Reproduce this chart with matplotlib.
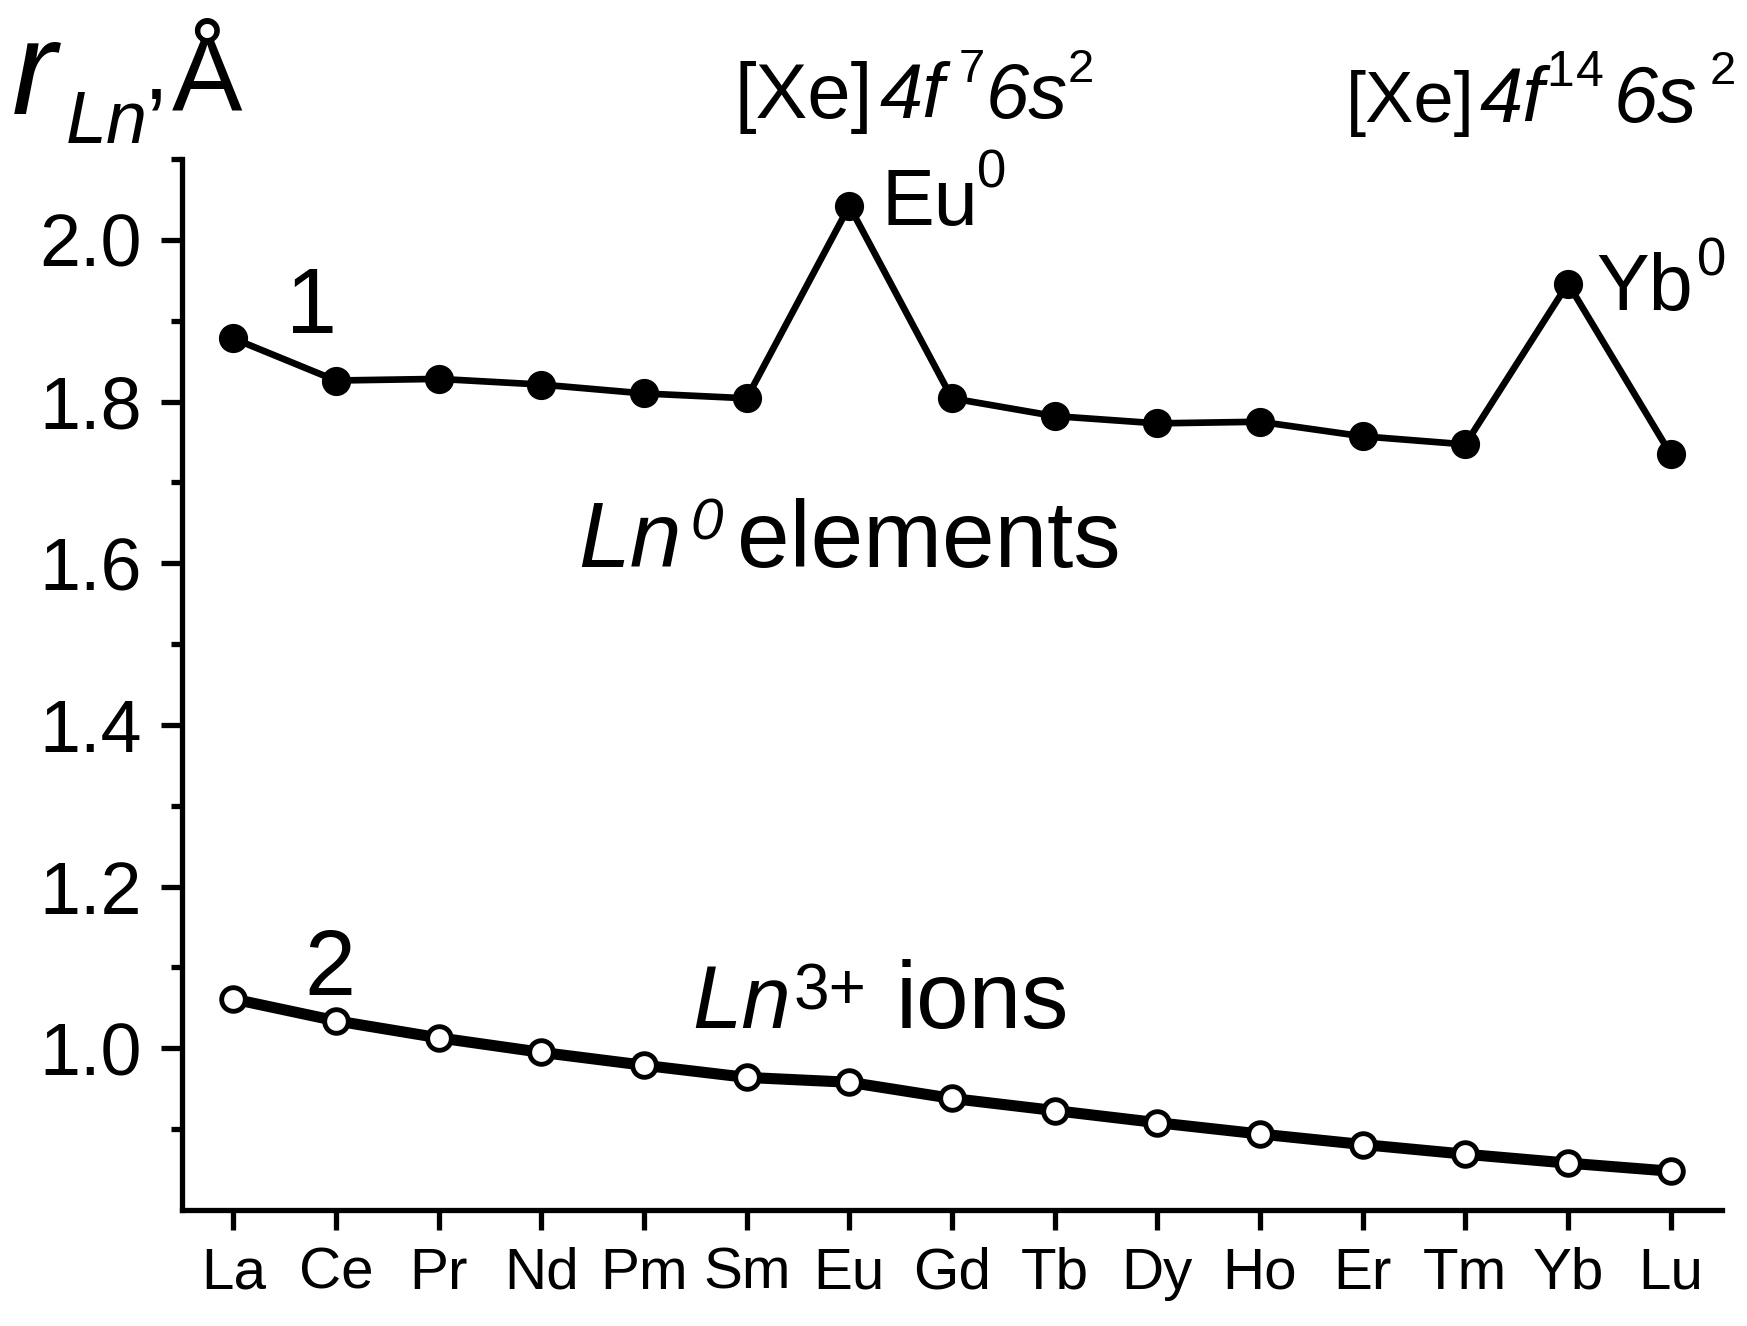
import matplotlib
matplotlib.use("Agg")
import matplotlib.pyplot as plt
from matplotlib.ticker import FixedLocator

# ---- data ----
elements = ["La", "Ce", "Pr", "Nd", "Pm", "Sm", "Eu", "Gd", "Tb", "Dy", "Ho", "Er", "Tm", "Yb", "Lu"]
r_metal = [1.878, 1.826, 1.828, 1.821, 1.810, 1.804, 2.042, 1.804, 1.782, 1.773, 1.775, 1.757, 1.747, 1.946, 1.735]
r_ion = [1.061, 1.034, 1.013, 0.995, 0.979, 0.964, 0.958, 0.938, 0.923, 0.908, 0.894, 0.881, 0.869, 0.858, 0.848]
y_major = [1.0, 1.2, 1.4, 1.6, 1.8, 2.0]
y_major_labels = ["1.0", "1.2", "1.4", "1.6", "1.8", "2.0"]
y_minor = [0.9, 1.1, 1.3, 1.5, 1.7, 1.9, 2.1]

W, H = 1747, 1326
FONT = "Liberation Sans"
plt.rcParams['font.family'] = [FONT, 'DejaVu Sans']

fig = plt.figure(figsize=(W / 100, H / 100), dpi=100)
ax = fig.add_axes([182 / W, 1 - 1210 / H, (1722 - 182) / W, (1210 - 159) / H])

xs = list(range(len(elements)))
ax.plot(xs, r_ion, '-', color='black', lw=8, marker='o', ms=17,
        mfc='white', mec='black', mew=3.5, zorder=3, clip_on=False)
ax.plot(xs, r_metal, '-', color='black', lw=4.8, marker='o', ms=20,
        mfc='black', mec='black', zorder=3, clip_on=False)

ax.set_xlim(-0.5, 14.5)
ax.set_ylim(0.8, 2.1)

for s in ['top', 'right']:
    ax.spines[s].set_visible(False)
for s in ['left', 'bottom']:
    ax.spines[s].set_linewidth(3.8)

ax.set_xticks(xs)
ax.set_xticklabels(elements, fontsize=42)
ax.yaxis.set_major_locator(FixedLocator(y_major))
ax.set_yticklabels(y_major_labels, fontsize=53)
ax.yaxis.set_minor_locator(FixedLocator(y_minor))
ax.tick_params(axis='x', which='major', direction='out', length=14.4, width=3.8, pad=12)
ax.tick_params(axis='y', which='major', direction='out', length=15, width=3.8, pad=14)
ax.tick_params(axis='y', which='minor', direction='out', length=8, width=3.8)


def t(xp, yp, s, size, style='normal'):
    fig.text(xp / W, 1 - yp / H, s, fontsize=size, fontstyle=style,
             ha='left', va='baseline', family=[FONT, 'DejaVu Sans'])


# axis title r_Ln, Å
t(12, 114, "r", 96, 'italic')
t(66, 143, "Ln", 53, 'italic')
t(143, 99, ",", 64)
t(172, 109, "Å", 76)

# electron configurations
t(735, 118, "[Xe]", 56)
t(880, 118, "4f", 56, 'italic')
t(959, 82, "7", 34)
t(986, 118, "6s", 56, 'italic')
t(1068, 82, "2", 34)

t(1346, 122, "[Xe]", 52)
t(1479, 122, "4f", 56, 'italic')
t(1546, 86, "1", 36)
t(1576, 86, "4", 36)
t(1614, 122, "6s", 57, 'italic')
t(1710, 84, "2", 34)

# point labels
t(881, 225, "Eu", 57)
t(977, 188, "0", 38)
t(1596, 310, "Yb", 57)
t(1697, 276, "0", 38)

# curve numbers
t(286, 333, "1", 66)
t(304, 995, "2", 66)

# series labels
t(578, 567, "Ln", 67, 'italic')
t(690, 540, "0", 42, 'italic')
t(737, 567, "elements", 68)

t(692, 1028, "Ln", 64, 'italic')
t(794, 1010, "3+", 46)
t(896, 1028, "ions", 68)

fig.savefig("out.png", dpi=100)
